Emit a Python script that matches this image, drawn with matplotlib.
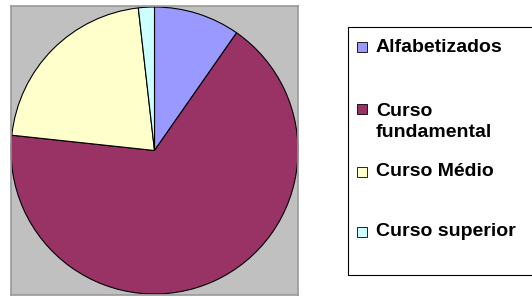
import matplotlib.pyplot as plt
from matplotlib.patches import Rectangle

# dados
categorias = ["Alfabetizados", "Curso\nfundamental", "Curso Médio", "Curso superior"]
valores = [9.7, 67.0, 21.5, 1.8]
cores = ["#9999FF", "#993366", "#FFFFCC", "#CCFFFF"]

W, H = 532, 297
fig = plt.figure(figsize=(W / 100, H / 100), dpi=100)
plt.rcParams['font.family'] = ['Liberation Sans', 'DejaVu Sans']

# area do grafico (pixels)
x0, x1, y0, y1 = 11, 298, 6, 295
ax = fig.add_axes([x0 / W, 1 - y1 / H, (x1 - x0) / W, (y1 - y0) / H])

ax.pie(valores, colors=cores, startangle=90, counterclock=False, frame=True,
       radius=1.0, wedgeprops=dict(edgecolor="black", linewidth=0.8))
ax.set_facecolor("#C0C0C0")
for s in ax.spines.values():
    s.set_color("#999999")
    s.set_linewidth(1.2)
r = 143.5
ax.set_aspect("auto")
ax.set_xlim(-(x1 - x0) / 2 / r, (x1 - x0) / 2 / r)
ax.set_ylim(-(y1 - y0) / 2 / r, (y1 - y0) / 2 / r)
ax.set_xticks([])
ax.set_yticks([])

# legenda
lx0, ly0, ly1 = 348, 27, 275
fig.patches.append(Rectangle((lx0 / W, 1 - ly1 / H), (W + 5 - lx0) / W, (ly1 - ly0) / H,
                             transform=fig.transFigure, facecolor="white",
                             edgecolor="black", linewidth=0.8))
ys = [47, 122, 172, 232]
mk_ys = [47, 109, 172, 232]
for lab, c, y, my in zip(categorias, cores, ys, mk_ys):
    s = 10
    fig.patches.append(Rectangle(((362 - s / 2) / W, 1 - (my + s / 2) / H), s / W, s / H,
                                 transform=fig.transFigure, facecolor=c,
                                 edgecolor="black", linewidth=0.6))
    fig.text(376 / W, 1 - y / H, lab, fontsize=14, fontweight="bold",
             va="center", ha="left", linespacing=1.3)

fig.savefig("out.png", dpi=100)
